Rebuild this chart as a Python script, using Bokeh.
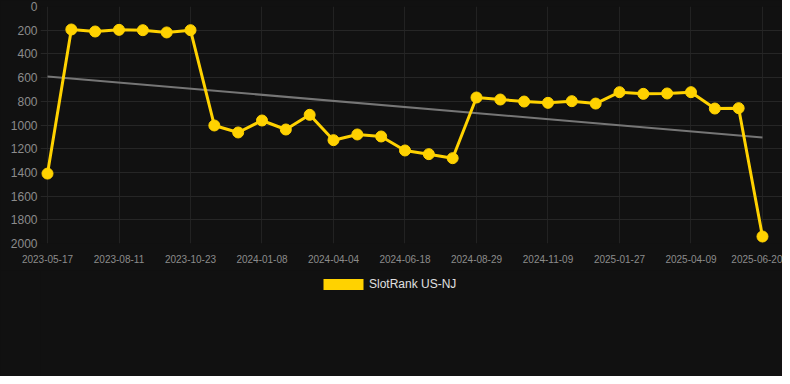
from bokeh.plotting import figure
from bokeh.layouts import column
from bokeh.models import FixedTicker, Legend, LegendItem, ColumnDataSource, Range1d
from bokeh.embed import file_html
from bokeh.resources import INLINE

# ---- data ----
tick_dates = ["2023-05-17", "2023-08-11", "2023-10-23", "2024-01-08", "2024-04-04",
              "2024-06-18", "2024-08-29", "2024-11-09", "2025-01-27", "2025-04-09",
              "2025-06-20"]
tick_step = 3
ranks = [1410, 194, 211, 197, 200, 219, 200, 1004, 1063, 962, 1038, 914, 1128, 1080,
         1097, 1215, 1246, 1280, 768, 785, 802, 813, 799, 819, 723, 737, 734, 723,
         861, 858, 1941]
trend_start = 591
trend_end = 1105
y_ticks = [0, 200, 400, 600, 800, 1000, 1200, 1400, 1600, 1800, 2000]
series_name = "SlotRank US-NJ"

x_idx = list(range(len(ranks)))
tick_pos = [i * tick_step for i in range(len(tick_dates))]

BG = "#111111"
GOLD = "#FFD200"
FONT = "Liberation Sans"
W = 782
TOP_H = 270
LEG_H = 106

p = figure(width=W, height=TOP_H, output_backend="svg", toolbar_location=None,
           x_range=Range1d(-0.294, 30.84), y_range=Range1d(2000, 0),
           min_border_left=40, min_border_right=0, min_border_top=6,
           min_border_bottom=TOP_H - 243)
p.background_fill_color = BG
p.border_fill_color = BG
p.outline_line_color = None

p.xgrid.grid_line_color = "#222222"
p.ygrid.grid_line_color = "#262626"

p.xaxis.ticker = FixedTicker(ticks=tick_pos)
p.xaxis.major_label_overrides = {t: d for t, d in zip(tick_pos, tick_dates)}
p.yaxis.ticker = FixedTicker(ticks=y_ticks)

for ax in (p.xaxis[0], p.yaxis[0]):
    ax.axis_line_color = None
    ax.major_tick_line_color = None
    ax.minor_tick_line_color = None
    ax.major_tick_out = 0
    ax.major_tick_in = 0
    ax.major_label_text_color = "#8c8c8c"
    ax.major_label_text_font = FONT
p.xaxis.major_label_text_font_size = "10px"
p.xaxis.major_label_standoff = 11
p.yaxis.major_label_text_font_size = "12px"
p.yaxis.major_label_standoff = 3

# trend line
p.line([x_idx[0], x_idx[-1]], [trend_start, trend_end], line_color="#767676", line_width=2)

src = ColumnDataSource(dict(x=x_idx, y=ranks))
p.line("x", "y", source=src, line_color=GOLD, line_width=3)
p.scatter("x", "y", source=src, size=11, fill_color=GOLD, line_color=GOLD)

# ---- legend strip (separate figure below the chart) ----
lf = figure(width=W, height=LEG_H, output_backend="svg", toolbar_location=None,
            x_axis_type=None, y_axis_type=None,
            x_range=Range1d(0, 1), y_range=Range1d(0, 1),
            min_border_left=0, min_border_right=0, min_border_top=0,
            min_border_bottom=0)
lf.background_fill_color = BG
lf.border_fill_color = BG
lf.outline_line_color = None
# legend proxy: zero-area quads on the series points (off-range, invisible)
sw = lf.quad(left="x", right="x", top="y", bottom="y", source=src,
             fill_color=GOLD, line_color=None)
legend = Legend(items=[LegendItem(label=series_name, renderers=[sw])],
                location=(278, LEG_H - 21), orientation="horizontal",
                glyph_width=50, glyph_height=14, label_height=14,
                label_standoff=1, padding=0, margin=0, spacing=0,
                background_fill_alpha=0, border_line_color=None,
                label_text_color="#e0e0e0", label_text_font_size="12px",
                label_text_font=FONT)
lf.add_layout(legend, "center")

layout = column(p, lf, spacing=0, styles={"background-color": BG})
open("out.html", "w").write(file_html(layout, INLINE))
